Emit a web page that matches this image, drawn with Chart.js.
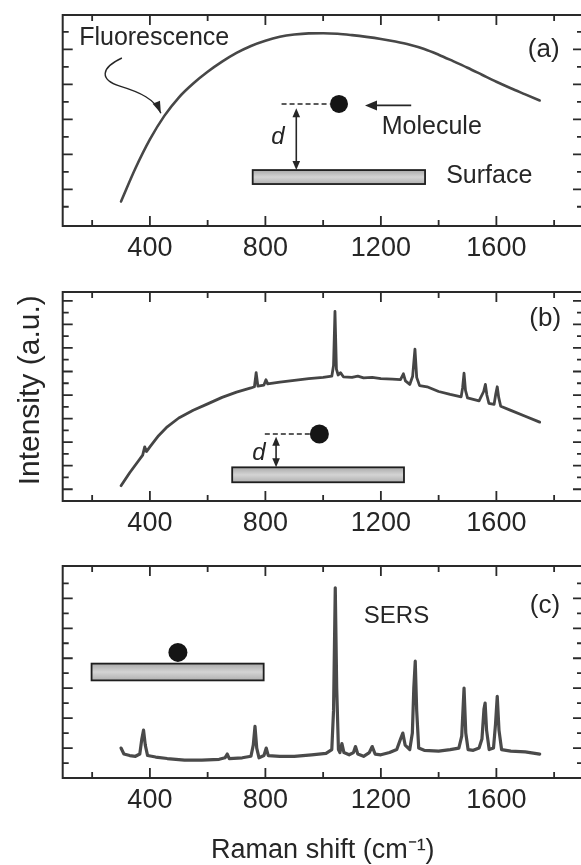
<!DOCTYPE html>
<html><head><meta charset="utf-8">
<script src="https://cdn.jsdelivr.net/npm/chart.js@4.4.1/dist/chart.umd.min.js"></script>
<style>
html,body{margin:0;padding:0;background:#fff;overflow:hidden;width:581px;height:865px;}
#wrap{position:relative;width:581px;height:865px;overflow:hidden;background:#fff;}
canvas{position:absolute;left:0;}
</style></head><body><div id="wrap">
<canvas id="ca" width="600" height="266" style="top:0px"></canvas>
<canvas id="cb" width="600" height="264" style="top:277px"></canvas>
<canvas id="cc" width="600" height="314" style="top:551px"></canvas>
</div>
<script>
// ---- data ----
const ramanTicks = [200, 400, 600, 800, 1000, 1200, 1400, 1600, 1800];
const ramanLabels = [400, 800, 1200, 1600];
const xTitle = 'Raman shift (cm\u207B\u00B9)';
const yTitle = 'Intensity (a.u.)';

// (a) fluorescence only
const fluorX = [300, 350, 400, 450, 500, 550, 600, 650, 700, 750, 800, 850, 900, 950, 1000, 1050, 1100, 1150, 1200, 1250, 1300, 1350, 1400, 1450, 1500, 1550, 1600, 1650, 1700, 1750];
const fluorY = [1.3, 3.2, 4.85, 6.2, 7.25, 8.05, 8.72, 9.3, 9.8, 10.2, 10.5, 10.72, 10.85, 10.92, 10.93, 10.9, 10.82, 10.72, 10.6, 10.45, 10.27, 10.03, 9.7, 9.33, 8.95, 8.55, 8.15, 7.78, 7.43, 7.08];

// (b) fluorescence + weak Raman
const mixedX = [300, 330, 360, 375, 382, 388, 400, 430, 460, 500, 550, 600, 650, 700, 750, 762, 768, 774, 795, 802, 808, 850, 900, 950, 1000, 1030, 1036, 1041, 1046, 1052, 1060, 1070, 1100, 1120, 1140, 1170, 1200, 1240, 1268, 1278, 1285, 1300, 1310, 1318, 1324, 1334, 1360, 1400, 1440, 1478, 1483, 1488, 1493, 1500, 1540, 1556, 1562, 1567, 1574, 1592, 1598, 1603, 1608, 1615, 1650, 1700, 1750];
const mixedY = [1.3, 2.4, 3.4, 3.9, 4.6, 4.2, 4.6, 5.55, 6.3, 7.05, 7.7, 8.25, 8.8, 9.25, 9.6, 9.7, 10.9, 9.75, 9.85, 10.3, 9.95, 10.1, 10.25, 10.4, 10.5, 10.6, 11.5, 16.1, 11.2, 10.7, 10.9, 10.55, 10.5, 10.6, 10.45, 10.5, 10.4, 10.35, 10.3, 10.8, 10.2, 9.9, 10.6, 12.9, 10.5, 9.8, 9.7, 9.3, 9.05, 8.85, 9.6, 10.85, 9.4, 8.75, 8.5, 9.3, 9.9, 9.0, 8.3, 8.2, 9.1, 9.7, 8.8, 8.05, 7.7, 7.2, 6.7];

// (c) SERS
const sersX = [300, 310, 330, 350, 365, 372, 378, 384, 392, 420, 460, 520, 580, 640, 660, 668, 675, 720, 750, 758, 764, 770, 778, 795, 803, 810, 850, 900, 960, 1010, 1030, 1036, 1042, 1047, 1053, 1058, 1065, 1072, 1090, 1105, 1112, 1120, 1140, 1160, 1170, 1180, 1200, 1230, 1255, 1268, 1276, 1284, 1300, 1309, 1314, 1319, 1324, 1331, 1350, 1400, 1440, 1470, 1480, 1488, 1494, 1502, 1520, 1540, 1550, 1557, 1561, 1566, 1575, 1590, 1597, 1603, 1609, 1618, 1650, 1700, 1750];
const sersY = [2.0, 1.6, 1.5, 1.45, 1.6, 2.6, 3.2, 2.2, 1.5, 1.4, 1.3, 1.2, 1.2, 1.25, 1.35, 1.6, 1.3, 1.35, 1.45, 2.2, 3.45, 2.0, 1.35, 1.5, 2.0, 1.5, 1.45, 1.45, 1.55, 1.65, 1.9, 4.5, 12.7, 6.0, 1.9, 1.7, 2.3, 1.7, 1.55, 1.7, 2.1, 1.6, 1.45, 1.7, 2.1, 1.6, 1.55, 1.7, 1.9, 2.6, 3.0, 2.2, 1.9, 3.0, 6.0, 7.8, 4.5, 2.0, 1.85, 1.8, 1.9, 2.0, 2.8, 6.0, 3.0, 1.9, 1.85, 2.0, 2.6, 4.6, 5.0, 3.2, 1.9, 2.0, 3.6, 5.45, 3.2, 1.9, 1.8, 1.75, 1.6];

// y tick marks (unlabelled, arbitrary units)
const yTicksA = [1,2,3,4,5,6,7,8,9,10,11];
const yMajorA = [2,4,6,8,10];
const yTicksB = [1,2,3,4,5,6,7,8,9,10,11,12,13,14,15,16,17];
const yMajorB = [1,3,5,7,9,11,13,15,17];
const yTicksC = [1,2,3,4,5,6,7,8,9,10,11,12,13];
const yMajorC = [2,4,6,8,10,12];

// ---- drawing ----
const FONT = "'Liberation Sans', Arial, Helvetica, sans-serif";
const INK = '#262626';

function arrowHead(ctx, tx, ty, fx, fy, len, half) {
  const a = Math.atan2(ty - fy, tx - fx);
  const c = Math.cos(a), s = Math.sin(a);
  ctx.beginPath();
  ctx.moveTo(tx, ty);
  ctx.lineTo(tx - len * c + half * s, ty - len * s - half * c);
  ctx.lineTo(tx - len * c - half * s, ty - len * s + half * c);
  ctx.closePath();
  ctx.fill();
}

const framePlugin = {
  id: 'frame',
  afterDraw(chart, args, o) {
    const {ctx, chartArea: ca, scales: {x, y}} = chart;
    ctx.save();
    ctx.strokeStyle = '#2a2a2a';
    ctx.lineWidth = 2;
    ctx.strokeRect(ca.left, ca.top, ca.right - ca.left, ca.bottom - ca.top);
    ctx.lineWidth = 1.8;
    ctx.beginPath();
    ramanTicks.forEach(v => {
      const px = x.getPixelForValue(v);
      const len = ramanLabels.includes(v) ? 10 : 6;
      ctx.moveTo(px, ca.bottom); ctx.lineTo(px, ca.bottom - len);
      ctx.moveTo(px, ca.top); ctx.lineTo(px, ca.top + len);
    });
    o.yTicks.forEach(v => {
      const py = y.getPixelForValue(v);
      const len = o.yMajor.includes(v) ? 10 : 6;
      ctx.moveTo(ca.left, py); ctx.lineTo(ca.left + len, py);
      ctx.moveTo(ca.right, py); ctx.lineTo(ca.right - len, py);
    });
    ctx.stroke();
    ctx.restore();
  }
};

const decoPlugin = {
  id: 'deco',
  afterDraw(chart, args, o) {
    const {ctx, scales: {x, y}} = chart;
    const X = v => x.getPixelForValue(v), Y = v => y.getPixelForValue(v);
    ctx.save();
    ctx.fillStyle = INK; ctx.strokeStyle = INK;
    (o.items || []).forEach(it => {
      ctx.save();
      if (it.t === 'text') {
        ctx.font = (it.style || '') + ' ' + it.size + 'px ' + FONT;
        ctx.textAlign = it.align || 'left';
        ctx.textBaseline = 'middle';
        ctx.fillStyle = INK;
        ctx.fillText(it.s, X(it.x), Y(it.y));
      } else if (it.t === 'dot') {
        ctx.fillStyle = '#151515';
        ctx.beginPath(); ctx.arc(X(it.x), Y(it.y), it.r, 0, Math.PI * 2); ctx.fill();
      } else if (it.t === 'dash') {
        ctx.setLineDash([5, 3]); ctx.lineWidth = 1.6;
        ctx.beginPath(); ctx.moveTo(X(it.x1), Y(it.y)); ctx.lineTo(X(it.x2), Y(it.y)); ctx.stroke();
      } else if (it.t === 'rect') {
        const x1 = X(it.x1), x2 = X(it.x2), y1 = Y(it.y1), y2 = Y(it.y2);
        const g = ctx.createLinearGradient(0, y1, 0, y2);
        g.addColorStop(0, '#a9a9a9'); g.addColorStop(0.5, '#d4d4d4'); g.addColorStop(1, '#b0b0b0');
        ctx.fillStyle = g; ctx.fillRect(x1, y1, x2 - x1, y2 - y1);
        ctx.lineWidth = 1.8; ctx.strokeStyle = '#1e1e1e'; ctx.strokeRect(x1, y1, x2 - x1, y2 - y1);
      } else if (it.t === 'harrow') {
        const x1 = X(it.x1), x2 = X(it.x2), yy = Y(it.y);
        ctx.lineWidth = 1.8;
        ctx.beginPath(); ctx.moveTo(x1, yy); ctx.lineTo(x2 + 8, yy); ctx.stroke();
        arrowHead(ctx, x2, yy, x1, yy, 12, 5);
      } else if (it.t === 'varrow') {
        const xx = X(it.x), y1 = Y(it.y1), y2 = Y(it.y2);
        ctx.lineWidth = 1.6;
        ctx.beginPath(); ctx.moveTo(xx, y1 + 5); ctx.lineTo(xx, y2 - 5); ctx.stroke();
        arrowHead(ctx, xx, y1, xx, y2, 9, 3.8);
        arrowHead(ctx, xx, y2, xx, y1, 9, 3.8);
      } else if (it.t === 'curve') {
        const p = it.p.map(q => [X(q[0]), Y(q[1])]);
        ctx.lineWidth = 1.4;
        ctx.beginPath(); ctx.moveTo(p[0][0], p[0][1]);
        ctx.bezierCurveTo(p[1][0], p[1][1], p[2][0], p[2][1], p[3][0], p[3][1]);
        ctx.bezierCurveTo(p[4][0], p[4][1], p[5][0], p[5][1], p[6][0], p[6][1]);
        ctx.stroke();
        arrowHead(ctx, p[6][0], p[6][1], p[5][0], p[5][1], 12, 4);
      } else if (it.t === 'ytitle') {
        ctx.font = it.size + 'px ' + FONT;
        ctx.textAlign = 'center'; ctx.textBaseline = 'middle';
        ctx.translate(it.px, Y(it.y));
        ctx.rotate(-Math.PI / 2);
        ctx.fillText(it.s, 0, 0);
      }
      ctx.restore();
    });
    ctx.restore();
  }
};

function makePanel(id, xs, ys, yMin, yMax, yTicks, yMajor, lw, color, items, xHeight, withTitle) {
  const data = xs.map((v, i) => ({x: v, y: ys[i]}));
  return new Chart(document.getElementById(id), {
    type: 'line',
    data: {datasets: [{data, borderColor: color, borderWidth: lw, pointRadius: 0,
      tension: 0, cubicInterpolationMode: id === 'ca' ? 'monotone' : 'default', fill: false,
      borderJoinStyle: 'round', borderCapStyle: 'round'}]},
    options: {
      responsive: false, animation: false, devicePixelRatio: 1,
      layout: {padding: {left: 0, right: 17, top: 15, bottom: 0}},
      plugins: {legend: {display: false}, tooltip: {enabled: false},
        frame: {yTicks, yMajor}, deco: {items}},
      scales: {
        x: {type: 'linear', min: 98, max: 1900,
          afterBuildTicks: s => { s.ticks = ramanTicks.map(v => ({value: v})); },
          afterFit: s => { s.height = xHeight; },
          grid: {display: false, drawTicks: false}, border: {display: false},
          ticks: {autoSkip: false, maxRotation: 0, padding: 6, color: INK,
            font: {family: FONT, size: 27},
            callback: v => ramanLabels.includes(v) ? String(v) : ''},
          title: {display: withTitle, text: xTitle, color: INK,
            font: {family: FONT, size: 27, lineHeight: 1.1}, padding: {top: 0, bottom: 0}}
        },
        y: {type: 'linear', min: yMin, max: yMax,
          afterFit: s => { s.width = 62.7; },
          grid: {display: false, drawTicks: false}, border: {display: false},
          ticks: {display: false}}
      }
    },
    plugins: [framePlugin, decoPlugin]
  });
}

makePanel('ca', fluorX, fluorY, -0.1, 11.97, yTicksA, yMajorA, 2.6, '#474747', [
  {t: 'text', s: 'Fluorescence', x: 155, y: 10.65, size: 25},
  {t: 'curve', p: [[303, 9.51], [227, 8.93], [227, 8.25], [296, 7.9], [366, 7.55], [418, 7.15], [438, 6.35]]},
  {t: 'text', s: '(a)', x: 1764, y: 9.96, size: 26, align: 'center'},
  {t: 'dash', x1: 856, x2: 1023, y: 6.88},
  {t: 'dot', x: 1055, y: 6.88, r: 9},
  {t: 'harrow', x1: 1305, x2: 1145, y: 6.8},
  {t: 'text', s: 'Molecule', x: 1203, y: 5.58, size: 25},
  {t: 'text', s: 'd', x: 843, y: 5.0, size: 24, style: 'italic', align: 'center'},
  {t: 'varrow', x: 907, y1: 6.63, y2: 3.1},
  {t: 'rect', x1: 756, y1: 3.1, x2: 1353, y2: 2.3},
  {t: 'text', s: 'Surface', x: 1426, y: 2.76, size: 25}
], 40, false);

makePanel('cb', mixedX, mixedY, 0, 17.75, yTicksB, yMajorB, 2.8, '#454545', [
  {t: 'ytitle', s: yTitle, px: 31, y: 9.4, size: 30},
  {t: 'text', s: '(b)', x: 1769, y: 15.5, size: 26, align: 'center'},
  {t: 'dash', x1: 798, x2: 958, y: 5.69},
  {t: 'dot', x: 987, y: 5.69, r: 9.5},
  {t: 'text', s: 'd', x: 778, y: 4.05, size: 24, style: 'italic', align: 'center'},
  {t: 'varrow', x: 837, y1: 5.46, y2: 2.86},
  {t: 'rect', x1: 685, y1: 2.86, x2: 1280, y2: 1.59}
], 40, false);

makePanel('cc', sersX, sersY, 0, 14.16, yTicksC, yMajorC, 3.2, '#4a4a4a', [
  {t: 'rect', x1: 198, y1: 7.64, x2: 794, y2: 6.52},
  {t: 'dot', x: 497, y: 8.39, r: 9.5},
  {t: 'text', s: 'SERS', x: 1254, y: 10.8, size: 24, align: 'center'},
  {t: 'text', s: '(c)', x: 1768, y: 11.47, size: 26, align: 'center'}
], 87, true);
</script>
</body></html>
